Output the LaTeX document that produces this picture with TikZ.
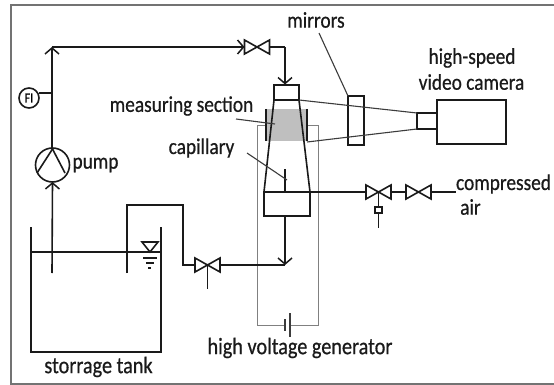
\documentclass[tikz,border=0pt]{standalone}
\usepackage{fontspec}
\setmainfont[FakeStretch=0.86,FakeBold=0.6]{Carlito}
\usetikzlibrary{arrows.meta,patterns}
\definecolor{ink}{HTML}{1A1A1A}
\tikzset{
  x=1pt,y=-1pt,
  pipe/.style={draw=ink,line width=1.6pt},
  thin line/.style={draw=ink!85,line width=1.1pt},
  flow/.style={pipe,-{Straight Barb[length=6pt,width=14pt,line width=1.5pt]}},
  part/.style={draw=ink,line width=1.6pt,inner sep=0pt,outer sep=0pt,fill=none},
  lab/.style={font=\fontsize{22.5}{24}\selectfont,text=ink,inner sep=0pt},
  widelab/.style={font=\fontsize{23.5}{24}\selectfont,text=ink,inner sep=0pt},
  frame/.style={draw=black!55,line width=1.6pt},
  hv/.style={draw=black!50,line width=1pt}
}
\newcommand{\valve}[2]{% name, centre
  \coordinate (#1) at (#2);
  \coordinate (#1w) at ([xshift=-12.5pt]#1);
  \coordinate (#1e) at ([xshift=12.5pt]#1);
  \draw[pipe,line join=miter] ([shift={(-12.5,-7)}]#1) -- ([shift={(12.5,7)}]#1) -- ([shift={(12.5,-7)}]#1) -- ([shift={(-12.5,7)}]#1) -- cycle;
}
\begin{document}
\begin{tikzpicture}
\useasboundingbox (0,0) rectangle (554,385);
\fill[white] (0,0) rectangle (554,385);
\draw[frame] (560,5) -- (11,5) -- (11,384) -- (560,384);

% high voltage loop
\coordinate (hvL) at (257,126);
\coordinate (hvR) at (318,126);
\coordinate (batA) at (285,325);
\coordinate (batB) at (290,325);
\draw[hv] (batA) -- (257,325) -- (hvL) -- (hvR) -- (318,325) -- (batB);
\draw[thin line] (285,319) -- (285,331);
\draw[thin line] (290,313) -- (290,337);

% measuring section
\fill[black!25] (266,109) rectangle (307,141);
\draw[draw=ink,line width=2.6pt] (266,109) -- (266,141);
\draw[draw=ink,line width=2.6pt] (307,109) -- (307,141);

% column
\node[part,minimum width=25pt,minimum height=15pt] (top) at (286.5,92.5) {};
\node[part,minimum width=46pt,minimum height=24pt] (base) at (287,204) {};
\draw[pipe] (top.south west) -- (base.north west);
\draw[pipe] (top.south east) -- (base.north east);
\coordinate (capTip) at (285,169);
\draw[pipe] (capTip) -- (285,192);

% optics
\node[part,minimum width=16pt,minimum height=49pt] (mirror) at (356,120.5) {};
\node[part,minimum width=69pt,minimum height=44pt] (camera) at (471.5,122) {};
\node[part,minimum width=20pt,minimum height=16pt] (lens) at (427,121) {};
\draw[thin line] (top.south east) -- (lens.north west);
\coordinate (rayB) at (307,142);
\draw[thin line] (rayB) -- (lens.south west);

% pipes to the column
\valve{vtop}{257,47}
\coordinate (corner) at (52,47);
\coordinate (elbow) at (285,47);
\draw[flow] (52,148) -- (corner);
\draw[flow] (corner) -- (vtopw);
\draw[pipe] (vtope) -- (elbow);
\draw[flow] (elbow) -- (285,84.5);

% pump and FI
\node[part,circle,minimum size=34pt] (pump) at (52.5,165) {};
\draw[pipe] (52.5,149) -- (37,173);
\draw[pipe] (52.5,149) -- (65,173);
\coordinate (suction) at (52,273);
\draw[flow] (suction) -- (pump.south);
\node[part,circle,minimum size=20pt,font=\fontsize{14}{14}\selectfont] (fi) at (29,98) {FI};
\draw[pipe] (39,93) -- (52,93);

% tank
\coordinate (tankTL) at (31,227);
\coordinate (tankTR) at (161,227);
\draw[pipe] (tankTL) -- (31,352) -- (161,352) -- (tankTR);
\draw[pipe] (31,252) -- (161,252);
\draw[pipe] (142,242) -- (158,242) -- (150,252) -- cycle;
\draw[pipe] (143,258) -- (157,258);
\draw[pipe] (146,263) -- (154,263);
\draw[pipe] (148,268) -- (151,268);

% return line
\valve{vret}{207.5,265}
\coordinate (inlet) at (127,273);
\coordinate (tee) at (285,265);
\draw[pipe] (inlet) -- (127,205) -- (183,205) -- (183,265) -- (vretw);
\draw[pipe] (vrete) -- (tee);
\draw[pipe] (vret) -- (207.5,289);
\draw[flow] (base.south) ++(-2,0) -- (tee);

% air line
\valve{vair}{378.5,192}
\valve{vairb}{418.5,192}
\coordinate (airEnd) at (456,192);
\draw[pipe,line width=1.2pt] (base.north east) -- (vairw);
\draw[pipe] (vaire) -- (vairbw);
\draw[pipe] (vairbe) -- (airEnd);
\draw[pipe] (vair) -- (378.5,207);
\node[part,minimum width=7pt,minimum height=6pt] (reg) at (378.5,210) {};
\draw[pipe] (reg.south) -- (378.5,228);

% labels
\node[lab] (lmir) at (316,20) {mirrors};
\node[lab] (lcam1) at (472,58) {high-speed};
\node[lab] (lcam2) at (471.5,82) {video camera};
\node[lab] (lair1) at (503.5,184) {compressed};
\node[lab,anchor=west] (lair2) at (460,207) {air};
\node[lab] (lpump) at (95.5,165) {pump};
\node[lab] (lmeas) at (181.5,106) {measuring section};
\node[lab] (lcap) at (201.5,148) {capillary};
\node[widelab] (ltank) at (98.5,367) {storrage tank};
\node[widelab] (lhv) at (300,348) {high voltage generator};

% leaders
\coordinate (measA) at (236,119);
\coordinate (measB) at (275,124);
\coordinate (capA) at (247,153);
\coordinate (capB) at (287,180);
\coordinate (mirA) at (319,33);
\draw[thin line] (measA) -- (measB);
\draw[thin line] (capA) -- (capB);
\draw[thin line] (mirA) -- (mirror.north west);
\end{tikzpicture}
\end{document}
